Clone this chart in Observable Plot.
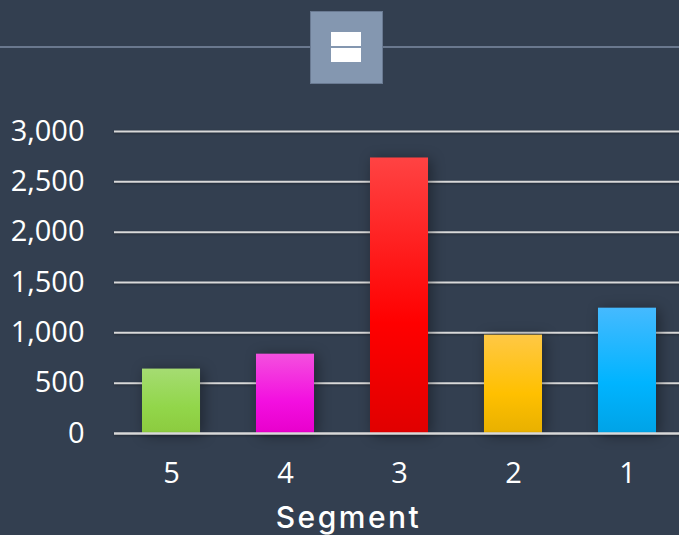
<!DOCTYPE html>
<html>
<head>
<meta charset="utf-8">
<script src="https://cdn.jsdelivr.net/npm/d3@7"></script>
<script src="https://cdn.jsdelivr.net/npm/@observablehq/plot@0.6"></script>
<style>
html,body{margin:0;padding:0;background:#333f50;overflow:hidden}
#wrap{position:relative;width:679px;height:535px}
#hline{position:absolute;left:0;right:0;top:46px;height:2px;background:#6a788e}
#box{position:absolute;left:310px;top:11px;width:71px;height:71px;background:#8497b0;border:1px solid #6a7a92}
#box i{position:absolute;left:20px;width:30px;height:14px;background:#fff;display:block}
svg{display:block;position:absolute;left:0;top:0}
</style>
</head>
<body>
<div id="wrap">
<div id="hline"></div>
<div id="box"><i style="top:20px"></i><i style="top:36px"></i></div>
</div>
<script>
const segments = ["5", "4", "3", "2", "1"];
const values = [640, 788, 2737, 977, 1245];
const yTicks = [0, 500, 1000, 1500, 2000, 2500, 3000];
const gradients = [
  ["#a5dc72", "#92d64a", "#8ccb3f"],
  ["#f450de", "#f30fe0", "#e800cc"],
  ["#ff4343", "#ff0000", "#e00000"],
  ["#ffc845", "#ffc000", "#e8b000"],
  ["#45baff", "#00b4ff", "#00a3e6"]
];
const rows = segments.map((s, i) => ({segment: s, value: values[i]}));

const chart = Plot.plot({
  width: 679,
  height: 535,
  marginLeft: 114,
  marginRight: -5,
  marginTop: 131,
  marginBottom: 102,
  style: {background: "transparent", color: "#fff", overflow: "hidden"},
  x: {domain: segments, paddingInner: 0.491, paddingOuter: 0.2456, align: 0.5, round: false, label: null},
  y: {domain: [0, 3000], label: null},
  color: {domain: segments, range: segments.map((s, i) => `url(#grad${i})`)},
  marks: [
    Plot.ruleY(yTicks.filter(d => d > 0), {stroke: "#d9d9d9", strokeWidth: 2, className: "grid"}),
    Plot.barY(rows, {x: "segment", y: "value", fill: "segment", className: "bars"}),
    Plot.ruleY([0], {stroke: "#d9d9d9", strokeWidth: 2.5, className: "grid"}),
    Plot.axisY({ticks: yTicks, tickSize: 0, tickPadding: 30, fontSize: 29, fontFamily: "Open Sans", fill: "#fff", label: null, tickFormat: d3.format(",")}),
    Plot.axisX({tickSize: 0, tickPadding: 29, fontSize: 29, fontFamily: "Open Sans", fill: "#fff", label: null}),
    Plot.text(["Segment"], {frameAnchor: "bottom", dx: -51, dy: 94, fontSize: 30, fontFamily: "Inter", fontWeight: 500, fill: "#fff", className: "xtitle"})
  ]
});

const svg = d3.select(chart);
const defs = svg.insert("defs", ":first-child");
gradients.forEach((g, i) => {
  const lg = defs.append("linearGradient").attr("id", `grad${i}`).attr("x1", 0).attr("y1", 0).attr("x2", 0).attr("y2", 1);
  [0, 0.6, 1].forEach((o, j) => lg.append("stop").attr("offset", o).attr("stop-color", g[j]));
});
svg.selectAll(".bars rect").style("filter", "drop-shadow(3px 2px 7px rgba(0,0,0,0.4))");
svg.selectAll(".grid").style("filter", "drop-shadow(0px 1px 1px rgba(0,0,0,0.35))");
svg.selectAll(".xtitle text").style("letter-spacing", "2.5px");
document.getElementById("wrap").appendChild(chart);
document.getElementById("wrap").appendChild(document.getElementById("box"));
</script>
</body>
</html>
